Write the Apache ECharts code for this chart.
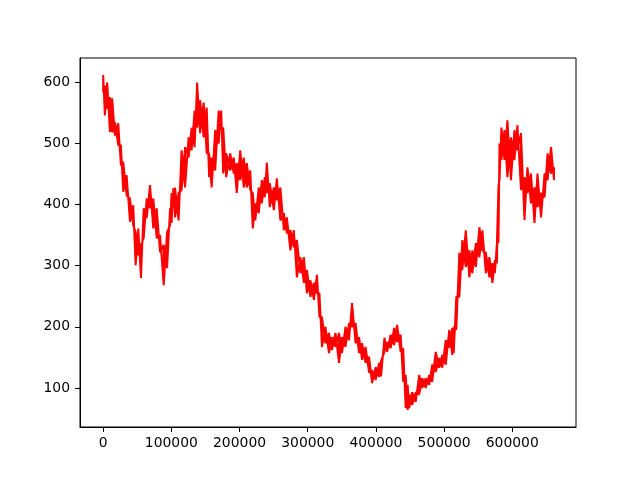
<!DOCTYPE html>
<html><head><meta charset="utf-8">
<script src="https://cdn.jsdelivr.net/npm/echarts@6/dist/echarts.min.js"></script>
<style>html,body{margin:0;padding:0;background:#fff}#c{width:640px;height:480px}</style>
</head><body><div id="c"></div>
<script>
const xs = [0,2500,5900,9900,13200,17200,22100,26000,29400,34400,39300,44100,47600,51500,55400,59400,63800,68700,73500,78500,83400,88800,93700,98100,100300,102900,105400,110600,115000,120100,125300,129700,134100,137800,142200,147400,151800,155400,159100,164300,169400,173100,176000,180400,186300,191500,195900,201000,206200,210600,215700,219400,223100,228200,232700,237000,240000,244400,250300,254700,259900,265000,269400,274600,279700,284100,289300,294400,298800,304000,309100,313500,317200,320900,326000,331200,335600,340700,345900,350300,355400,360600,365000,370200,375300,379700,384900,390000,394400,399600,404700,407500,412600,416500,421600,426800,431200,436300,440000,443700,446600,448800,453200,458400,463500,468000,473000,478200,482600,487800,492900,497400,502500,507600,512000,514200,517900,522400,526800,531800,537100,541500,546600,551800,556200,561300,566500,570900,574600,577500,579800,581300,584100,588500,592900,598100,603200,607600,612800,617900,622300,627500,632600,637000,642200,647400,651800,656900,661300];
const hi = [612,595,600,576,574,535,533,497,470,448,410,399,355,361,334,394,410,432,410,394,350,334,355,394,419,427,428,419,489,494,510,526,554,600,571,567,559,484,477,522,554,554,526,484,484,477,468,489,477,468,456,419,402,428,440,445,469,435,428,443,428,386,379,358,358,342,314,314,293,276,272,285,255,216,200,190,183,190,190,183,200,206,239,206,183,173,167,151,129,134,141,144,182,175,187,198,203,187,165,121,105,89,93,93,121,116,116,121,138,159,149,154,178,195,198,200,249,321,342,358,325,325,337,363,358,321,314,304,309,337,430,500,526,522,538,510,522,530,517,445,461,451,428,451,419,451,484,494,461];
const lo = [584,546,557,519,518,513,497,464,421,415,372,366,301,317,280,345,378,394,361,345,322,268,296,366,370,399,379,374,424,428,477,489,494,526,517,510,484,445,428,456,500,522,451,445,456,451,419,440,428,428,424,361,374,386,402,412,419,396,391,407,374,358,353,325,330,281,288,272,255,249,244,255,216,167,173,157,162,167,141,157,167,178,200,173,157,146,141,125,108,113,118,119,159,159,165,170,175,159,110,67,64,67,72,77,89,100,100,105,110,126,133,133,138,166,154,157,195,249,293,298,281,288,298,314,325,288,281,272,288,304,337,440,473,473,445,440,473,489,424,375,419,402,370,396,379,412,440,451,440];
const xTicks = [0,100000,200000,300000,400000,500000,600000];
const yTicks = [100,200,300,400,500,600];

// one series: a pass high->low at each sample, a gap, then a pass low->high,
// so the noisy band between samples is filled like the dense original trace
const data = [];
for (let i = 0; i < xs.length; i++) { data.push([xs[i], hi[i]]); data.push([xs[i], lo[i]]); }
data.push(['-', '-']);
for (let i = 0; i < xs.length; i++) { data.push([xs[i], lo[i]]); data.push([xs[i], hi[i]]); }

const font = 'DejaVu Sans';
const chart = echarts.init(document.getElementById('c'), null, {renderer: 'canvas'});
chart.setOption({
  animation: false,
  backgroundColor: '#fff',
  grid: {left: 80, right: 64, top: 58, bottom: 53, show: true, borderColor: '#000', borderWidth: 1, backgroundColor: 'transparent'},
  xAxis: {
    type: 'value', min: -34000, max: 693500,
    splitLine: {show: false},
    axisLine: {show: true, onZero: false, lineStyle: {color: '#000', width: 1}},
    axisTick: {show: true, length: 5, lineStyle: {color: '#000', width: 1}, customValues: xTicks},
    axisLabel: {customValues: xTicks, color: '#000', fontFamily: font, fontSize: 13.9, margin: 9, formatter: v => String(v)}
  },
  yAxis: {
    type: 'value', min: 36, max: 640,
    splitLine: {show: false},
    axisLine: {show: true, onZero: false, lineStyle: {color: '#000', width: 1}},
    axisTick: {show: true, length: 5, lineStyle: {color: '#000', width: 1}, customValues: yTicks},
    axisLabel: {customValues: yTicks, color: '#000', fontFamily: font, fontSize: 13.9, margin: 10, formatter: v => String(v)}
  },
  series: [{
    type: 'line', data: data, showSymbol: false, symbol: 'none', connectNulls: false,
    lineStyle: {color: '#ff0000', width: 2}, itemStyle: {color: '#ff0000'},
    clip: true, silent: true
  }]
});
</script></body></html>
